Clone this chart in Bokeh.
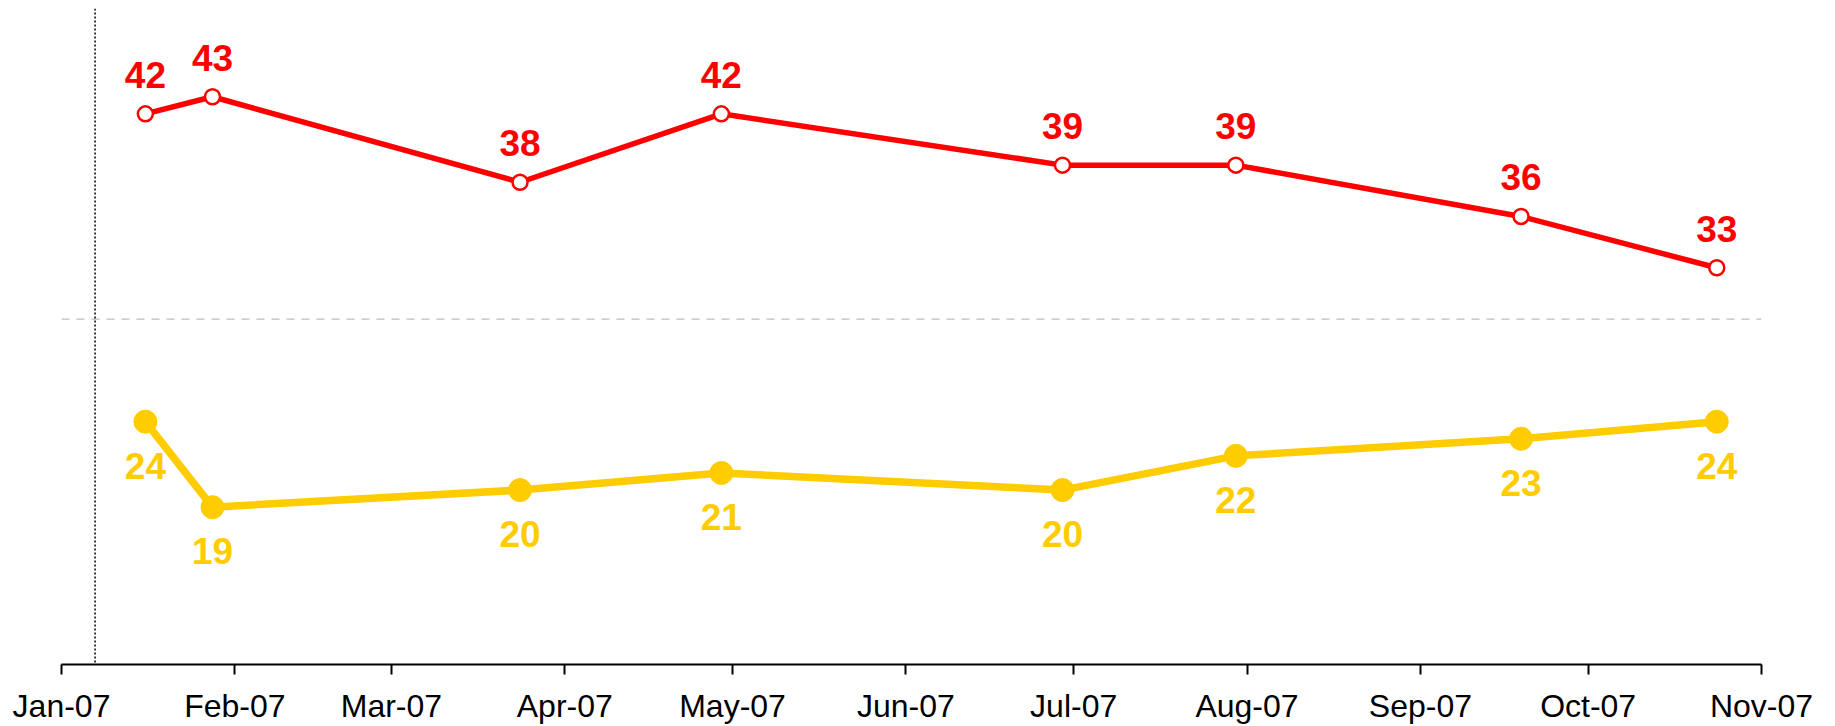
import pandas as pd
from bokeh.plotting import figure
from bokeh.models import Range1d, Span, FixedTicker, ColumnDataSource
from bokeh.core.properties import value
from bokeh.embed import file_html
from bokeh.resources import INLINE

# ---- data ----
dates = ["2007-01-16", "2007-01-28", "2007-03-24", "2007-04-29",
         "2007-06-29", "2007-07-30", "2007-09-19", "2007-10-24"]
red_values = [42, 43, 38, 42, 39, 39, 36, 33]
yellow_values = [24, 19, 20, 21, 20, 22, 23, 24]
month_ticks = ["2007-01-01", "2007-02-01", "2007-03-01", "2007-04-01",
               "2007-05-01", "2007-06-01", "2007-07-01", "2007-08-01",
               "2007-09-01", "2007-10-01", "2007-11-01"]
tick_labels = ["Jan-07", "Feb-07", "Mar-07", "Apr-07", "May-07", "Jun-07",
               "Jul-07", "Aug-07", "Sep-07", "Oct-07", "Nov-07"]
event_date = "2007-01-07"
reference_level = 30


def ms(d):
    return float(pd.Timestamp(d).value // 10**6)


RED = "#FF0000"
YELLOW = "#FFCC00"
FONT = "Liberation Sans"

src = ColumnDataSource(dict(
    x=[ms(d) for d in dates],
    red=red_values,
    yellow=yellow_values,
    red_txt=[str(v) for v in red_values],
    yellow_txt=[str(v) for v in yellow_values],
))

p = figure(width=1835, height=726, output_backend="svg", toolbar_location=None,
           x_axis_type="datetime", y_axis_location=None,
           x_range=Range1d(ms(month_ticks[0]), ms(month_ticks[-1])),
           y_range=Range1d(9.8, 48.16),
           min_border_left=61, min_border_right=74, min_border_top=8,
           min_border_bottom=62)
p.outline_line_color = None
p.grid.visible = False
p.background_fill_color = "white"
p.border_fill_color = "white"

# reference lines
p.add_layout(Span(location=reference_level, dimension="width",
                  line_color="#BDBDBD", line_dash="8 7", line_width=1.3))
p.add_layout(Span(location=ms(event_date), dimension="height",
                  line_color="black", line_dash="2 2", line_width=1.5))

# red series
p.line("x", "red", source=src, line_color=RED, line_width=5.5)
p.scatter("x", "red", source=src, size=15, fill_color="white",
          line_color=RED, line_width=2.5)
p.text("x", "red", text="red_txt", source=src, text_color=RED,
       text_font=value(FONT), text_font_style="bold", text_font_size="37px",
       text_align="center", text_baseline="alphabetic", y_offset=-39)

# yellow series
p.line("x", "yellow", source=src, line_color=YELLOW, line_width=7.5)
p.scatter("x", "yellow", source=src, size=23, fill_color=YELLOW,
          line_color=YELLOW)
p.text("x", "yellow", text="yellow_txt", source=src, text_color=YELLOW,
       text_font=value(FONT), text_font_style="bold", text_font_size="37px",
       text_align="center", text_baseline="alphabetic", y_offset=44)

# x axis
ax = p.xaxis[0]
ax.ticker = FixedTicker(ticks=[ms(d) for d in month_ticks])
ax.major_label_overrides = {ms(d): lab for d, lab in zip(month_ticks, tick_labels)}
ax.axis_line_color = "black"
ax.axis_line_width = 2
ax.major_tick_line_color = "black"
ax.major_tick_line_width = 2
ax.major_tick_in = 0
ax.major_tick_out = 10
ax.minor_tick_line_color = None
ax.major_label_standoff = 13
ax.major_label_text_font = FONT
ax.major_label_text_font_size = "32px"
ax.major_label_text_color = "black"

open("out.html", "w").write(file_html(p, INLINE))
